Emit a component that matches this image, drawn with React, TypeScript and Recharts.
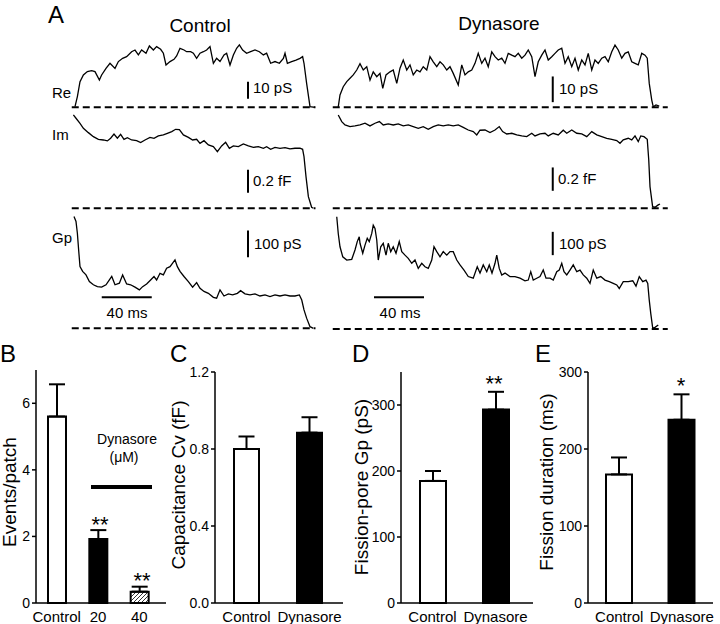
import React from 'react';
import { LineChart, Line, XAxis, YAxis, ReferenceLine, BarChart, Bar, Cell, ErrorBar } from 'recharts';

const FONT = '"Liberation Sans", Arial, Helvetica, sans-serif';

// ---------- Panel A traces: [time (ms), value] ----------
const controlRe: [number, number][] = [
  [1.6,0.4],[3.5,6.3],[5.6,15.1],[8.3,19.0],[11.5,21.0],[14.9,21.6],[17.6,21.0],[21.1,16.1],[22.9,19.0],[26.4,22.9],[29.6,25.9],[33.6,22.9],[36.3,26.9],[39.7,28.8],[42.9,29.8],[46.9,32.7],[49.6,33.7],[52.3,30.8],[54.9,33.7],[58.4,31.8],[61.1,36.1],[64.3,33.7],[66.9,35.7],[70.1,34.1],[72.3,31.8],[74.4,24.9],[77.6,26.9],[80.8,28.2],[82.9,30.2],[85.6,34.7],[88.8,33.7],[90.9,32.7],[94.1,32.7],[96.3,31.8],[98.9,28.8],[101.6,31.8],[104.3,32.7],[106.9,33.7],[109.6,35.7],[112.3,25.9],[114.9,28.8],[117.6,26.9],[120.8,30.8],[122.9,31.8],[125.6,24.9],[128.3,30.8],[130.9,34.7],[133.1,36.7],[135.7,33.7],[138.9,31.8],[142.1,32.7],[145.6,33.7],[149.1,32.7],[152.3,30.8],[154.9,31.8],[158.1,25.9],[161.6,26.9],[165.1,25.9],[168.3,28.8],[169.6,31.8],[171.5,25.9],[174.9,26.9],[178.4,27.8],[181.6,28.8],[183.7,29.8],[184.8,25.9],[186.9,14.1],[189.6,0.4],[193.6,0]
];
const dynasoreRe: [number, number][] = [
  [3.4,0.2],[4.8,4.8],[7.4,8.0],[10.2,10.0],[12.8,11.3],[15.4,12.6],[18.2,14.5],[20.8,17.0],[23.4,14.5],[26.2,15.8],[28.8,10.6],[31.4,13.8],[34.2,11.9],[36.8,13.2],[39.0,7.4],[41.6,12.6],[44.8,13.8],[47.4,14.5],[50.2,9.3],[52.8,15.2],[55.4,18.4],[58.2,14.5],[60.8,16.5],[63.4,12.6],[66.2,14.5],[68.8,13.8],[71.4,15.8],[74.2,14.5],[76.8,19.7],[79.4,17.7],[82.2,15.8],[84.8,17.7],[87.4,16.5],[90.2,14.5],[92.8,15.8],[95.4,13.2],[99.4,8.7],[102.2,16.5],[104.8,12.6],[107.4,13.8],[110.2,14.5],[112.8,17.1],[115.4,21.0],[118.2,17.1],[120.8,19.1],[123.4,15.8],[126.2,21.6],[128.8,19.7],[131.4,18.4],[134.2,19.1],[136.8,17.1],[139.4,21.0],[142.2,20.3],[144.8,19.7],[147.4,21.0],[150.2,19.1],[152.8,20.3],[155.4,22.3],[158.2,19.7],[160.8,11.9],[163.4,17.7],[166.2,20.3],[168.8,22.3],[171.4,18.4],[174.2,19.7],[176.8,21.0],[179.4,22.3],[182.2,23.0],[184.8,17.1],[187.4,19.7],[190.2,15.8],[192.8,19.1],[195.4,14.5],[198.2,18.4],[200.8,16.5],[203.4,21.0],[206.2,14.5],[208.8,18.4],[211.4,17.1],[214.2,19.1],[216.8,19.7],[219.4,17.7],[222.2,21.6],[224.8,24.2],[227.4,22.3],[230.2,19.1],[232.8,21.0],[235.4,21.6],[238.2,17.7],[240.8,17.1],[243.4,16.5],[246.2,21.0],[248.8,20.3],[250.6,19.1],[252.2,9.3],[254.2,2.8],[255.4,0.2],[257.6,0.9],[260.2,0.5]
];
const controlIm: [number, number][] = [
  [0.3,0.812],[2.4,0.783],[5.6,0.739],[8.3,0.696],[12.3,0.658],[16.3,0.623],[20.3,0.600],[24.3,0.594],[27.5,0.586],[30.1,0.609],[32.8,0.646],[35.5,0.609],[38.1,0.643],[40.8,0.600],[43.5,0.614],[46.9,0.594],[50.9,0.588],[54.1,0.571],[57.6,0.594],[61.6,0.617],[64.8,0.609],[68.3,0.629],[72.3,0.638],[75.5,0.652],[79.0,0.667],[82.1,0.687],[85.1,0.684],[88.3,0.638],[92.3,0.617],[95.7,0.594],[98.9,0.600],[101.6,0.565],[104.8,0.588],[108.3,0.551],[112.3,0.536],[115.5,0.493],[118.9,0.542],[122.1,0.574],[125.1,0.522],[128.3,0.542],[132.3,0.536],[136.3,0.559],[140.3,0.542],[144.3,0.530],[148.3,0.536],[152.3,0.522],[154.9,0.536],[158.1,0.513],[161.6,0.530],[165.6,0.522],[169.6,0.528],[173.6,0.516],[177.6,0.522],[181.6,0.522],[183.7,0.513],[184.8,0.449],[186.4,0.275],[188.3,0.101],[190.9,0.009],[192.3,0]
];
const dynasoreIm: [number, number][] = [
  [3.4,0.800],[6.2,0.743],[8.8,0.714],[12.8,0.700],[16.8,0.706],[20.8,0.714],[24.8,0.729],[28.8,0.706],[32.8,0.729],[36.3,0.743],[39.4,0.714],[43.4,0.723],[47.4,0.714],[51.4,0.723],[55.4,0.706],[59.4,0.714],[63.4,0.700],[67.4,0.686],[71.4,0.700],[75.4,0.677],[79.4,0.700],[83.4,0.714],[87.4,0.706],[91.4,0.714],[95.4,0.706],[99.4,0.714],[103.4,0.694],[107.4,0.671],[111.4,0.657],[114.2,0.629],[116.8,0.669],[120.8,0.671],[124.8,0.649],[128.8,0.671],[132.2,0.700],[134.9,0.657],[138.2,0.637],[142.2,0.643],[146.2,0.629],[150.2,0.620],[154.2,0.614],[158.2,0.643],[160.8,0.620],[164.8,0.637],[168.8,0.643],[171.4,0.620],[175.4,0.643],[179.4,0.629],[183.4,0.669],[186.2,0.643],[190.2,0.671],[194.2,0.643],[198.2,0.637],[202.2,0.614],[206.2,0.657],[210.2,0.629],[214.2,0.614],[218.2,0.600],[222.2,0.591],[226.2,0.580],[228.8,0.557],[231.4,0.586],[235.4,0.600],[238.2,0.586],[240.8,0.620],[243.4,0.571],[245.4,0.620],[248.0,0.614],[250.6,0.591],[251.8,0.414],[252.8,0.186],[254.9,0.014],[256.8,0.009],[259.4,0.029],[260.8,0.037]
];
const controlGp: [number, number][] = [
  [0.8,419],[2.4,400],[3.5,356],[4.5,294],[5.6,231],[7.7,213],[10.4,200],[13.1,175],[16.3,163],[19.5,156],[22.9,154],[26.4,163],[29.1,181],[31.0,194],[33.6,163],[37.1,169],[39.7,200],[42.9,166],[46.1,163],[49.6,154],[53.1,144],[55.7,156],[58.9,166],[62.1,181],[64.8,194],[66.9,181],[69.6,206],[72.3,200],[74.9,225],[77.6,231],[79.7,244],[81.6,256],[83.5,231],[85.6,213],[88.8,194],[92.3,175],[95.7,154],[98.9,171],[101.6,150],[104.8,138],[108.3,131],[112.3,116],[114.9,113],[117.6,144],[120.8,121],[124.3,129],[127.7,125],[131.5,131],[134.1,141],[137.6,129],[141.6,125],[145.6,129],[149.6,121],[153.6,125],[157.6,119],[161.6,125],[165.6,121],[169.6,125],[173.6,121],[177.6,121],[181.1,125],[183.0,106],[184.8,69],[186.9,38],[189.6,6],[192.3,0]
];
const dynasoreGp: [number, number][] = [
  [2.2,482],[3.4,410],[4.8,353],[7.0,310],[10.2,296],[14.2,299],[16.8,339],[18.6,375],[20.2,396],[20.8,368],[23.0,325],[24.8,360],[26.6,389],[28.2,375],[30.2,410],[31.4,446],[32.8,432],[34.2,382],[35.4,296],[37.4,353],[39.4,368],[41.6,317],[43.4,368],[45.4,332],[47.4,353],[49.6,325],[52.2,375],[54.2,332],[56.8,317],[59.4,303],[62.2,282],[64.8,296],[67.4,260],[70.2,282],[72.8,267],[75.4,260],[78.2,296],[80.0,353],[82.2,332],[84.8,310],[87.4,332],[90.2,317],[92.8,332],[95.4,332],[98.2,296],[100.8,275],[104.0,253],[107.4,225],[111.4,218],[114.6,267],[116.8,240],[119.4,275],[122.2,246],[124.2,275],[126.4,240],[128.8,282],[130.2,317],[132.2,260],[134.2,232],[136.8,240],[140.8,225],[144.8,225],[148.8,218],[152.8,207],[155.4,210],[157.4,246],[159.4,210],[162.2,218],[164.8,225],[167.4,253],[169.6,218],[172.8,218],[175.4,210],[178.2,246],[180.2,253],[182.2,282],[184.0,246],[186.2,232],[188.8,253],[191.4,275],[194.2,246],[196.8,253],[199.4,232],[202.2,218],[204.8,196],[207.4,253],[210.2,218],[213.4,225],[216.8,210],[220.2,203],[223.4,196],[226.2,189],[228.2,174],[231.4,203],[235.4,203],[239.0,207],[241.6,184],[244.2,225],[247.0,203],[249.6,210],[251.0,196],[252.2,124],[253.4,67],[255.0,3],[256.8,7],[259.4,17]
];

// Scale bars: [time, from, to]
const controlReBar = [140, 5, 15];
const dynasoreReBar = [175, 2, 12];
const controlImBar = [140, 0.135, 0.335];
const dynasoreImBar = [175, 0.15, 0.35];
const controlGpBar = [140, 266, 366];
const dynasoreGpBar = [175, 317, 417];
// Time bars: [from, to, level]
const controlTimeBar = [23, 63, 116];
const dynasoreTimeBar = [32, 72, 136];

// ---------- Panels B-E ----------
const bCats = ['Control', '20', '40'];
const bMeans = [5.6, 1.92, 0.34];
const bErrs = [0.97, 0.27, 0.15];
const bTicks = [0, 2, 4, 6];

const cCats = ['Control', 'Dynasore'];
const cMeans = [0.80, 0.885];
const cErrs = [0.065, 0.08];
const cTicks = [0, 0.4, 0.8, 1.2];

const dCats = ['Control', 'Dynasore'];
const dMeans = [185, 293];
const dErrs = [15, 27];
const dTicks = [0, 100, 200, 300];

const eCats = ['Control', 'Dynasore'];
const eMeans = [167, 238];
const eErrs = [22, 33];
const eTicks = [0, 100, 200, 300];

const PX_PER_MS = 1.25;

function yDom(top: number, height: number, basePx: number, ppu: number): [number, number] {
  const hi = (basePx - top) / ppu;
  return [hi - height / ppu, hi];
}

type TraceProps = {
  data: [number, number][];
  zeroPx: number; top: number; height: number; t0: number; t1: number;
  basePx: number; ppu: number; dash: [number, number]; bar: number[]; timeBar?: number[];
};

function Trace({ data, zeroPx, top, height, t0, t1, basePx, ppu, dash, bar, timeBar }: TraceProps) {
  const rows = data.map(([t, v]) => ({ t, v }));
  const left = zeroPx + t0 * PX_PER_MS;
  const width = (t1 - t0) * PX_PER_MS;
  const dom = yDom(top, height, basePx, ppu);
  return (
    <div style={{ position: 'absolute', left, top, width, height }}>
      <LineChart width={width} height={height} data={rows} margin={{ top: 0, right: 0, bottom: 0, left: 0 }}>
        <XAxis type="number" dataKey="t" domain={[t0, t1]} hide allowDataOverflow />
        <YAxis type="number" domain={dom} hide allowDataOverflow />
        <ReferenceLine segment={[{ x: dash[0], y: 0 }, { x: dash[1], y: 0 }]} stroke="#000" strokeWidth={2} strokeDasharray="7 4" />
        <ReferenceLine segment={[{ x: bar[0], y: bar[1] }, { x: bar[0], y: bar[2] }]} stroke="#000" strokeWidth={2} />
        {timeBar ? (
          <ReferenceLine segment={[{ x: timeBar[0], y: timeBar[2] }, { x: timeBar[1], y: timeBar[2] }]} stroke="#000" strokeWidth={2} />
        ) : null}
        <Line type="linear" dataKey="v" stroke="#000" strokeWidth={1.3} dot={false} isAnimationActive={false} />
      </LineChart>
    </div>
  );
}

type BarPanelProps = {
  left: number; top: number; width: number; height: number; yWidth: number; mTop: number; mRight: number;
  cats: string[]; means: number[]; errs: number[]; fills: string[]; domain: [number, number]; ticks: number[];
  fmt?: (v: number) => string; barSize: number; padRight: number; hatchId?: string;
};

function BarPanel(p: BarPanelProps) {
  const rows = p.cats.map((c, i) => ({ name: c, value: p.means[i], err: [0, p.errs[i]] }));
  return (
    <div style={{ position: 'absolute', left: p.left, top: p.top, width: p.width, height: p.height }}>
      <BarChart width={p.width} height={p.height} data={rows} margin={{ top: p.mTop, right: p.mRight, bottom: 0, left: 0 }}>
        {p.hatchId ? (
          <defs>
            <pattern id={p.hatchId} patternUnits="userSpaceOnUse" width={4} height={4}>
              <rect width={4} height={4} fill="#fff" />
              <path d="M-1,1 l2,-2 M0,4 l4,-4 M3,5 l2,-2" stroke="#000" strokeWidth={0.8} />
            </pattern>
          </defs>
        ) : null}
        <XAxis dataKey="name" height={27} tickLine={false} interval={0}
          axisLine={{ stroke: '#000', strokeWidth: 1.5 }} tick={{ fill: '#000', fontSize: 15 }}
          padding={{ left: 0, right: p.padRight }} />
        <YAxis width={p.yWidth} type="number" domain={p.domain} ticks={p.ticks} interval={0}
          tickFormatter={p.fmt} tickSize={4}
          tickLine={{ stroke: '#000', strokeWidth: 1.5 }} axisLine={{ stroke: '#000', strokeWidth: 1.5 }}
          tick={{ fill: '#000', fontSize: 14 }} />
        <Bar dataKey="value" barSize={p.barSize} stroke="#000" strokeWidth={2} isAnimationActive={false}>
          {rows.map((r, i) => <Cell key={r.name} fill={p.fills[i]} />)}
          <ErrorBar dataKey="err" width={8} stroke="#000" strokeWidth={2} direction="y" />
        </Bar>
      </BarChart>
    </div>
  );
}

const T = (props: any) => <text fill="#000" fontFamily={FONT} {...props} />;

export default function App() {
  const cz = 73, dz = 334;
  return (
    <div style={{ position: 'absolute', left: 0, top: 0, width: 720, height: 624, background: '#fff', fontFamily: FONT, overflow: 'hidden' }}>
      {/* Panel A traces */}
      <Trace data={controlRe} zeroPx={cz} top={40} height={75} t0={-4} t1={200} basePx={107.3} ppu={1.7} dash={[-1, 194]} bar={controlReBar} />
      <Trace data={dynasoreRe} zeroPx={dz} top={40} height={75} t0={-4} t1={272} basePx={107.3} ppu={2.57} dash={[-1, 267]} bar={dynasoreReBar} />
      <Trace data={controlIm} zeroPx={cz} top={108} height={107} t0={-4} t1={200} basePx={208.3} ppu={115} dash={[-1, 194]} bar={controlImBar} />
      <Trace data={dynasoreIm} zeroPx={dz} top={108} height={107} t0={-4} t1={272} basePx={208.3} ppu={116.7} dash={[-1, 267]} bar={dynasoreImBar} />
      <Trace data={controlGp} zeroPx={cz} top={212} height={124} t0={-4} t1={200} basePx={328.3} ppu={0.267} dash={[-1, 194]} bar={controlGpBar} timeBar={controlTimeBar} />
      <Trace data={dynasoreGp} zeroPx={dz} top={212} height={124} t0={-4} t1={272} basePx={329} ppu={0.233} dash={[-1, 267]} bar={dynasoreGpBar} timeBar={dynasoreTimeBar} />

      {/* Panels B-E */}
      <BarPanel left={0} top={360} width={175} height={270} yWidth={36} mTop={10} mRight={9}
        cats={bCats} means={bMeans} errs={bErrs} fills={['#fff', '#000', 'url(#hatchB)']} hatchId="hatchB"
        domain={[0, 7]} ticks={bTicks} barSize={18} padRight={6} />
      <BarPanel left={175} top={360} width={175} height={270} yWidth={40} mTop={12} mRight={7}
        cats={cCats} means={cMeans} errs={cErrs} fills={['#fff', '#000']}
        domain={[0, 1.2]} ticks={cTicks} fmt={(v: number) => v.toFixed(1)} barSize={25} padRight={2} />
      <BarPanel left={355} top={360} width={185} height={270} yWidth={46} mTop={12} mRight={7}
        cats={dCats} means={dMeans} errs={dErrs} fills={['#fff', '#000']}
        domain={[0, 350]} ticks={dTicks} barSize={26} padRight={6} />
      <BarPanel left={540} top={360} width={180} height={270} yWidth={48} mTop={12} mRight={7}
        cats={eCats} means={eMeans} errs={eErrs} fills={['#fff', '#000']}
        domain={[0, 300]} ticks={eTicks} barSize={26} padRight={0} />

      {/* Annotations */}
      <svg width={720} height={624} style={{ position: 'absolute', left: 0, top: 0, pointerEvents: 'none' }}>
        <T x={48} y={23} fontSize={24}>A</T>
        <T x={200} y={32} fontSize={19} textAnchor="middle">Control</T>
        <T x={499} y={30} fontSize={19} textAnchor="middle">Dynasore</T>
        <T x={52} y={98} fontSize={15}>Re</T>
        <T x={52} y={140} fontSize={15}>Im</T>
        <T x={52} y={243} fontSize={15}>Gp</T>
        <T x={253} y={93} fontSize={15}>10 pS</T>
        <T x={559} y={94} fontSize={15}>10 pS</T>
        <T x={253} y={186} fontSize={15}>0.2 fF</T>
        <T x={558} y={184} fontSize={15}>0.2 fF</T>
        <T x={254} y={249} fontSize={15}>100 pS</T>
        <T x={559} y={249} fontSize={15}>100 pS</T>
        <T x={127} y={318} fontSize={15} textAnchor="middle">40 ms</T>
        <T x={400} y={318} fontSize={15} textAnchor="middle">40 ms</T>

        <T x={0} y={362} fontSize={24}>B</T>
        <T x={170} y={362} fontSize={24}>C</T>
        <T x={352} y={362} fontSize={24}>D</T>
        <T x={535} y={362} fontSize={24}>E</T>

        <T x={16} y={492} fontSize={19} textAnchor="middle" transform="rotate(-90 16 492)">Events/patch</T>
        <T x={185} y={485} fontSize={19} textAnchor="middle" transform="rotate(-90 185 485)">Capacitance Cv (fF)</T>
        <T x={368} y={487} fontSize={19} textAnchor="middle" transform="rotate(-90 368 487)">Fission-pore Gp (pS)</T>
        <T x={553} y={482} fontSize={19} textAnchor="middle" transform="rotate(-90 553 482)">Fission duration (ms)</T>

        <T x={127} y={444} fontSize={14} textAnchor="middle">Dynasore</T>
        <T x={124} y={462} fontSize={14} textAnchor="middle">(μM)</T>
        <line x1={91} x2={152} y1={487} y2={487} stroke="#000" strokeWidth={4} />
        <T x={100} y={532} fontSize={22} textAnchor="middle">**</T>
        <T x={142} y={588} fontSize={22} textAnchor="middle">**</T>
        <T x={494} y={391} fontSize={22} textAnchor="middle">**</T>
        <T x={681} y={393} fontSize={22} textAnchor="middle">*</T>
      </svg>
    </div>
  );
}
